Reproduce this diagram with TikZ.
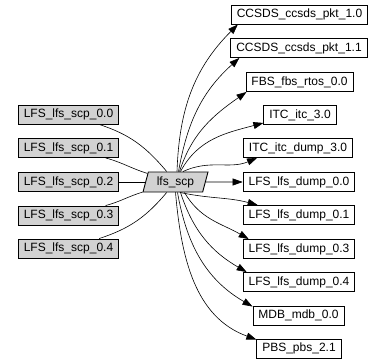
\documentclass[tikz,border=0pt]{standalone}
\usepackage{fontspec}
\setmainfont{Liberation Sans}
\usetikzlibrary{shapes.geometric,arrows.meta}
\begin{document}
\begin{tikzpicture}[x=1pt,y=-1pt,
  box/.style={draw=black,line width=0.9pt,rectangle,inner xsep=5.5pt,inner ysep=0pt,minimum height=19pt,font=\fontsize{12}{14}\selectfont},
  grey/.style={box,fill=gray!35,inner xsep=5pt},
  ctr/.style={draw=black,line width=0.9pt,fill=gray!35,trapezium,trapezium left angle=70,trapezium right angle=110,trapezium stretches=true,inner xsep=2pt,inner ysep=0pt,minimum width=65pt,minimum height=20pt,font=\fontsize{12}{14}\selectfont},
  edge/.style={line width=0.6pt},
  arr/.style={edge,-{Triangle[length=10pt,width=7pt]}}]
\useasboundingbox (0,0) rectangle (383,364);
% left nodes
\node[grey] (l0) at (68.5,114.5) {LFS\_lfs\_scp\_0.0};
\node[grey] (l1) at (68.5,148) {LFS\_lfs\_scp\_0.1};
\node[grey] (l2) at (68.5,182) {LFS\_lfs\_scp\_0.2};
\node[grey] (l3) at (68.5,215.5) {LFS\_lfs\_scp\_0.3};
\node[grey] (l4) at (68.5,248.5) {LFS\_lfs\_scp\_0.4};
% centre
\node[ctr] (c) at (175.5,182) {lfs\_scp};
% right nodes
\node[box] (r0) at (299.5,14.5) {CCSDS\_ccsds\_pkt\_1.0};
\node[box] (r1) at (299,48) {CCSDS\_ccsds\_pkt\_1.1};
\node[box] (r2) at (299.5,82) {FBS\_fbs\_rtos\_0.0};
\node[box] (r3) at (300,115) {ITC\_itc\_3.0};
\node[box] (r4) at (298,148) {ITC\_itc\_dump\_3.0};
\node[box] (r5) at (299,182) {LFS\_lfs\_dump\_0.0};
\node[box] (r6) at (299,215) {LFS\_lfs\_dump\_0.1};
\node[box] (r7) at (299,249) {LFS\_lfs\_dump\_0.3};
\node[box] (r8) at (299,282) {LFS\_lfs\_dump\_0.4};
\node[box] (r9) at (298.5,315.5) {MDB\_mdb\_0.0};
\node[box] (r10) at (299,348.5) {PBS\_pbs\_2.1};
% left edges
\draw[edge] (l0) to[out=-18,in=130] (c);
\draw[edge] (l1) to[out=-15,in=163] (c);
\draw[edge] (l2) -- (c);
\draw[edge] (l3) to[out=15,in=197] (c);
\draw[edge] (l4) to[out=18,in=230] (c);
% right edges
\draw[arr] ([xshift=1.5pt]c.north) to[out=88,in=225] ([xshift=7pt]r0.south west);
\draw[arr] ([xshift=3pt]c.north) to[out=80,in=222] ([xshift=9pt]r1.south west);
\draw[arr] ([xshift=4pt]c.north) to[out=72,in=215] ([xshift=1pt]r2.south west);
\draw[arr] ([xshift=5pt]c.north) to[out=62,in=195] ([yshift=2pt]r3.south west);
\draw[arr] ([xshift=-3pt]c.north east) to[out=25,in=203] ([xshift=14pt]r4.south west);
\draw[arr] (c) -- (r5);
\draw[arr] ([xshift=-6pt]c.south east) to[out=-12,in=165] ([xshift=15pt]r6.north west);
\draw[arr] ([xshift=9pt]c.south) to[out=-60,in=150] ([xshift=6pt]r7.north west);
\draw[arr] ([xshift=5pt]c.south) to[out=-72,in=150] ([xshift=4pt]r8.north west);
\draw[arr] ([xshift=2pt]c.south) to[out=-80,in=150] ([yshift=-1pt]r9.north west);
\draw[arr] ([xshift=0pt]c.south) to[out=-85,in=160] ([yshift=-1pt]r10.north west);
\end{tikzpicture}
\end{document}
